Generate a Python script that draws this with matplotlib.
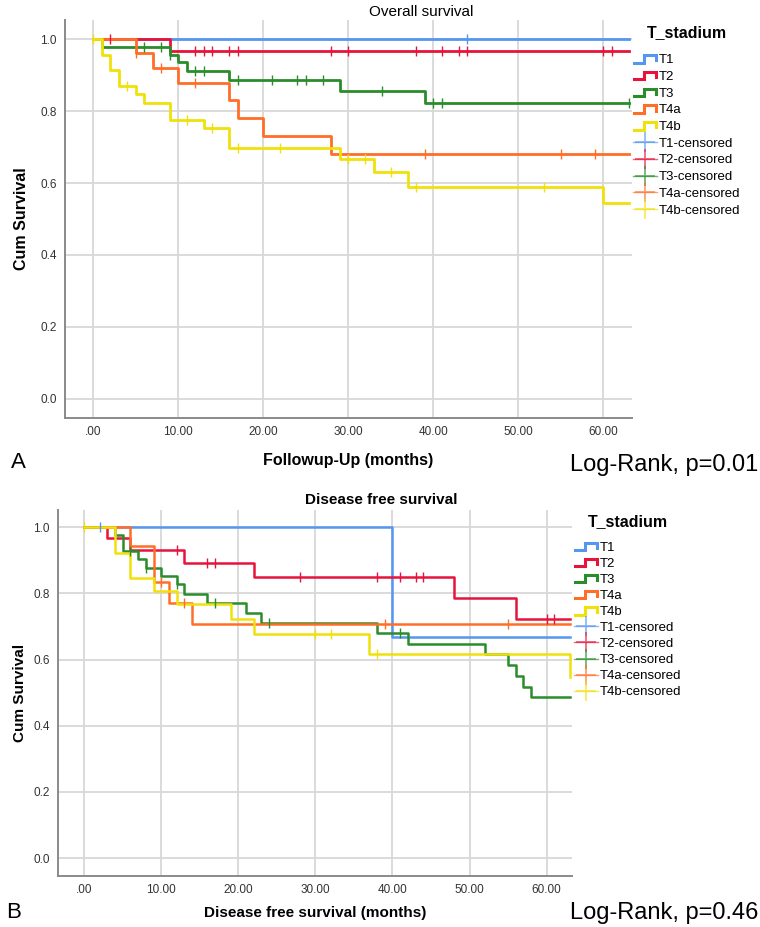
import numpy as np
import matplotlib
matplotlib.use("Agg")
import matplotlib.pyplot as plt
from matplotlib.lines import Line2D
from matplotlib.legend_handler import HandlerBase

plt.rcParams['font.family'] = ['Liberation Sans', 'DejaVu Sans']

# -------------------------- DATA ----------------------------
GROUPS = ["T1", "T2", "T3", "T4a", "T4b"]
COLORS = ["#5596F0", "#E6143C", "#2A8C2A", "#FF6E28", "#F0E10A"]
END_TIME = 63

# Overall survival: event times, survival after each event, censored times
os_events = {
    "T1": [],
    "T2": [9],
    "T3": [1, 9, 10, 11, 16, 29, 39],
    "T4a": [5, 7, 10, 16, 17, 20, 28],
    "T4b": [1, 2, 3, 5, 6, 9, 13, 16, 29, 33, 37, 60],
}
os_surv = {
    "T1": [],
    "T2": [0.967],
    "T3": [0.978, 0.957, 0.935, 0.911, 0.886, 0.855, 0.821],
    "T4a": [0.962, 0.920, 0.877, 0.830, 0.780, 0.730, 0.680],
    "T4b": [0.957, 0.913, 0.870, 0.846, 0.823, 0.776, 0.752, 0.697, 0.666, 0.630, 0.590, 0.544],
}
os_censored = {
    "T1": [44],
    "T2": [2, 12, 13, 14, 16, 17, 28, 30, 38, 41, 43, 44, 60, 61],
    "T3": [6, 8, 9, 12, 13, 17, 21, 24, 25, 27, 34, 40, 41, 63],
    "T4a": [5, 8, 12, 39, 55, 59],
    "T4b": [0, 4, 11, 14, 17, 22, 30, 32, 35, 38, 53],
}

# Disease free survival
dfs_events = {
    "T1": [40],
    "T2": [3, 6, 13, 22, 48, 56],
    "T3": [4, 5, 7, 8, 10, 12, 13, 16, 21, 23, 38, 42, 52, 55, 56, 57, 58],
    "T4a": [6, 9, 11, 14],
    "T4b": [4, 6, 9, 12, 19, 22, 37, 63],
}
dfs_surv = {
    "T1": [0.667],
    "T2": [0.966, 0.931, 0.893, 0.849, 0.786, 0.724],
    "T3": [0.977, 0.929, 0.903, 0.877, 0.852, 0.828, 0.798, 0.772, 0.741, 0.711,
           0.680, 0.648, 0.616, 0.583, 0.550, 0.517, 0.486],
    "T4a": [0.944, 0.833, 0.771, 0.708],
    "T4b": [0.923, 0.846, 0.808, 0.768, 0.722, 0.677, 0.616, 0.548],
}
dfs_censored = {
    "T1": [2],
    "T2": [12, 16, 17, 28, 38, 41, 43, 44, 60, 61],
    "T3": [6, 8, 12, 17, 24, 41],
    "T4a": [10, 13, 39, 55],
    "T4b": [0, 30, 32, 38],
}

X_TICKS = [0, 10, 20, 30, 40, 50, 60]
Y_TICKS = [0.0, 0.2, 0.4, 0.6, 0.8, 1.0]

# -------------------------- FIGURE ----------------------------
W, H = 760, 927
fig = plt.figure(figsize=(W / 100, H / 100), dpi=100)


def px_axes(left, top, right, bottom):
    return fig.add_axes([left / W, 1 - bottom / H, (right - left) / W, (bottom - top) / H])


class StepHandler(HandlerBase):
    def create_artists(self, legend, orig_handle, xdescent, ydescent, width, height, fontsize, trans):
        x0, y0 = -xdescent, -ydescent
        xs = x0 + width * np.array([0.05, 0.45, 0.45, 0.95, 0.95])
        ys = y0 + height * np.array([0.05, 0.05, 0.85, 0.85, 0.3])
        line = Line2D(xs, ys, color=orig_handle.get_color(), lw=orig_handle.get_linewidth(),
                      solid_joinstyle="miter")
        line.set_transform(trans)
        return [line]


def km_plot(ax, events, surv, censored, xlim, ylim, lw):
    for g, c in zip(GROUPS, COLORS):
        t = np.array([0] + events[g] + [END_TIME], dtype=float)
        s = np.array([1.0] + surv[g] + [surv[g][-1] if surv[g] else 1.0])
        ax.step(t, s, where="post", color=c, lw=lw, zorder=3)
        ct = np.array(censored[g], dtype=float)
        idx = np.searchsorted(t[:-1], ct, side="right") - 1
        ax.plot(ct, s[idx], ls="none", marker="|", ms=7.5, mew=1.0, color=c, zorder=4)

    ax.set_xlim(*xlim)
    ax.set_ylim(*ylim)
    ax.set_xticks(X_TICKS)
    ax.set_xticklabels([f"{v:.2f}".lstrip("0") if v == 0 else f"{v:.2f}" for v in X_TICKS])
    ax.set_yticks(Y_TICKS)
    ax.set_yticklabels([f"{v:.1f}" for v in Y_TICKS])
    ax.grid(True, color="#d8d8d8", lw=1.3, zorder=0)
    ax.set_axisbelow(True)
    for side in ["top", "right"]:
        ax.spines[side].set_visible(False)
    for side in ["left", "bottom"]:
        ax.spines[side].set_color("#8a8a8a")
        ax.spines[side].set_linewidth(1.4)
    ax.tick_params(length=0, labelsize=8.5, labelcolor="#333333", pad=6)


def km_legend(x, y, spacing, title_gap):
    steps = [Line2D([], [], color=c, lw=2.2) for c in COLORS]
    cens = [Line2D([], [], color=c, alpha=0.65, lw=1.0, marker="+", ms=15, mew=1.3) for c in COLORS]
    labels = GROUPS + [g + "-censored" for g in GROUPS]
    leg = fig.legend(steps + cens, labels, loc="upper left", bbox_to_anchor=(x / W, 1 - y / H),
                     frameon=False, fontsize=9.5, handlelength=1.8, handletextpad=0.15,
                     labelspacing=spacing, borderpad=0, borderaxespad=0,
                     handler_map={h: StepHandler() for h in steps},
                     title="T_stadium", title_fontproperties={"weight": "bold", "size": 11.5})
    leg._legend_box.sep = title_gap
    return leg


# ---------------------- A: Overall survival ----------------------
ax1 = px_axes(65, 20, 632, 418)
km_plot(ax1, os_events, os_surv, os_censored, (-3.3, 63.4), (-0.053, 1.053), 2.0)
ax1.set_xlabel("Followup-Up (months)", fontsize=11.5, fontweight="bold")
ax1.xaxis.set_label_coords(0.5, -(460 - 418) / 398)
ax1.xaxis.label.set_va("center")
ax1.set_ylabel("Cum Survival", fontsize=11.5, fontweight="bold")
ax1.yaxis.set_label_coords((22 - 65) / 567, 0.5)
ax1.yaxis.label.set_va("center")
fig.text(421 / W, 1 - 12 / H, "Overall survival", ha="center", va="center", fontsize=11)
km_legend(633, 25, 0.34, 10)
fig.text(18 / W, 1 - 462 / H, "A", ha="center", va="center", fontsize=16)
fig.text(758 / W, 1 - 465 / H, "Log-Rank, p=0.01", ha="right", va="center", fontsize=17)

# ------------------- B: Disease free survival --------------------
ax2 = px_axes(58, 510, 572, 876)
km_plot(ax2, dfs_events, dfs_surv, dfs_censored, (-3.4, 63.3), (-0.054, 1.052), 1.8)
ax2.set_xlabel("Disease free survival (months)", fontsize=11, fontweight="bold")
ax2.xaxis.set_label_coords(0.5, -(913 - 876) / 366)
ax2.xaxis.label.set_va("center")
ax2.set_ylabel("Cum Survival", fontsize=11, fontweight="bold")
ax2.yaxis.set_label_coords((20 - 58) / 514, 0.5)
ax2.yaxis.label.set_va("center")
fig.text(381 / W, 1 - 500 / H, "Disease free survival", ha="center", va="center",
         fontsize=11, fontweight="bold")
km_legend(574, 514, 0.29, 9)
fig.text(14 / W, 1 - 913 / H, "B", ha="center", va="center", fontsize=16)
fig.text(758 / W, 1 - 913 / H, "Log-Rank, p=0.46", ha="right", va="center", fontsize=17)

fig.savefig("out.png", dpi=100, facecolor="white")
